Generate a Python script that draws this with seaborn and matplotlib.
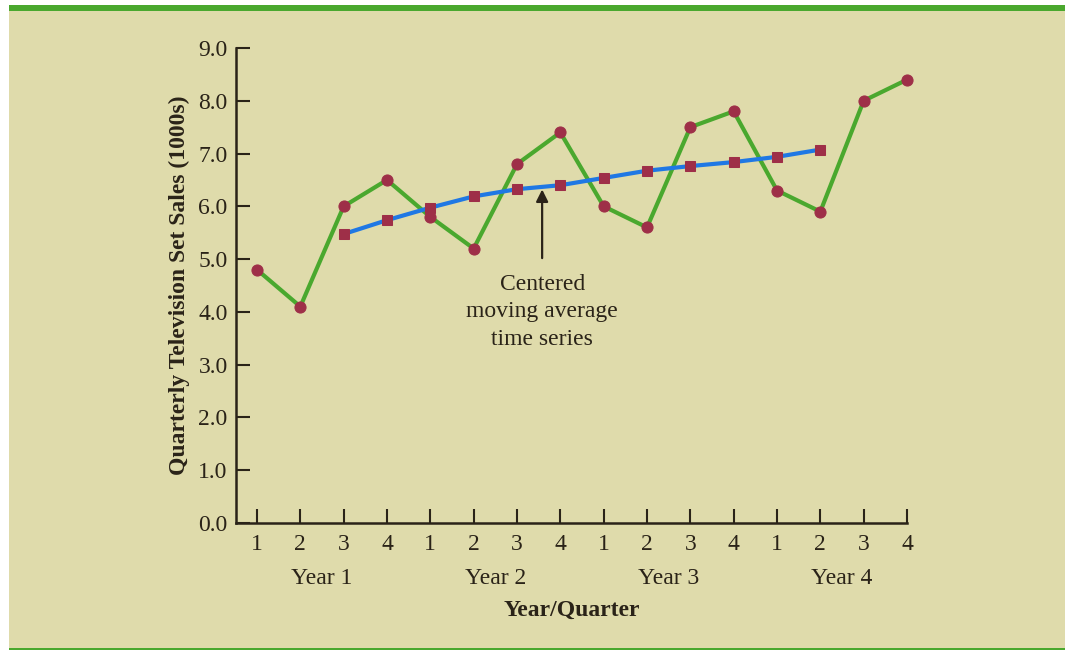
import matplotlib.pyplot as plt
import numpy as np
import pandas as pd
import seaborn as sns
from matplotlib.patches import Rectangle

# Quarterly TV set sales (1000s), years 1-4
sales = [4.8, 4.1, 6.0, 6.5, 5.8, 5.2, 6.8, 7.4, 6.0, 5.6, 7.5, 7.8, 6.3, 5.9, 8.0, 8.4]
# Centered moving average, quarters 3..14
cma = [5.475, 5.738, 5.975, 6.188, 6.325, 6.400, 6.538, 6.675, 6.763, 6.838, 6.938, 7.075]
quarter_labels = ["1", "2", "3", "4"] * 4
year_labels = ["Year 1", "Year 2", "Year 3", "Year 4"]

t = np.arange(1, len(sales) + 1)
df_sales = pd.DataFrame({"t": t, "sales": sales})
df_cma = pd.DataFrame({"t": t[2:2 + len(cma)], "cma": cma})

bg = "#dfdbab"
green = "#4aa82e"
blue = "#1f78e4"
maroon = "#9e2f48"
ink = "#2a2318"

sns.set_style("white")
plt.rcParams["font.family"] = ["Liberation Serif", "DejaVu Serif"]

fig = plt.figure(figsize=(10.68, 6.5), dpi=100)
fig.patch.set_facecolor("white")
# beige panel with green rules
fig.patches.append(Rectangle((9 / 1068, 0), 1056 / 1068, 645 / 650, transform=fig.transFigure,
                             facecolor=bg, edgecolor="none", zorder=-10))
fig.patches.append(Rectangle((9 / 1068, 639 / 650), 1056 / 1068, 6 / 650, transform=fig.transFigure,
                             facecolor=green, edgecolor="none", zorder=-9))
fig.patches.append(Rectangle((9 / 1068, 0), 1056 / 1068, 2 / 650, transform=fig.transFigure,
                             facecolor=green, edgecolor="none", zorder=-9))

ax = fig.add_axes([236 / 1068, 1 - 523 / 650, (907 - 236) / 1068, (523 - 48) / 650])
ax.set_facecolor("none")

sns.lineplot(data=df_sales, x="t", y="sales", ax=ax, color=green, linewidth=3,
             marker="o", markersize=8, markerfacecolor=maroon, markeredgecolor=maroon,
             zorder=3, clip_on=False)
sns.lineplot(data=df_cma, x="t", y="cma", ax=ax, color=blue, linewidth=3,
             marker="s", markersize=7.5, markerfacecolor=maroon, markeredgecolor=maroon,
             zorder=4, clip_on=False)

x0 = 1 - (257 - 236) / 43.33
ax.set_xlim(x0, 16)
ax.set_ylim(0, 9)
ax.set_xticks(t)
ax.set_xticklabels(quarter_labels)
ax.set_yticks(np.arange(0, 9.5, 1.0))
ax.set_yticklabels([f"{v:.1f}" for v in np.arange(0, 9.5, 1.0)])
ax.tick_params(axis="both", direction="in", length=10, width=1.5, color=ink,
               labelsize=17, labelcolor=ink, bottom=True, left=True)
ax.tick_params(axis="x", pad=8)
ax.tick_params(axis="y", pad=6)

for side in ["top", "right"]:
    ax.spines[side].set_visible(False)
for side in ["left", "bottom"]:
    ax.spines[side].set_color(ink)
    ax.spines[side].set_linewidth(1.8)

for i, lab in enumerate(year_labels):
    ax.text(2.5 + 4 * i, -1.05, lab, ha="center", va="center", fontsize=17, color=ink)

ax.set_xlabel("Year/Quarter", fontsize=17, fontweight="bold", color=ink, labelpad=32)
ax.set_ylabel("Quarterly Television Set Sales (1000s)", fontsize=17, fontweight="bold",
              color=ink, labelpad=6)

ax.annotate("Centered\nmoving average\ntime series", xy=(7.58, 6.32), xytext=(7.58, 4.72),
            ha="center", va="top", fontsize=17, color=ink, linespacing=1.4,
            arrowprops=dict(arrowstyle="-|>", color=ink, lw=1.6, mutation_scale=18,
                            shrinkA=9, shrinkB=0))

fig.savefig("out.png", dpi=100, facecolor=fig.get_facecolor())
